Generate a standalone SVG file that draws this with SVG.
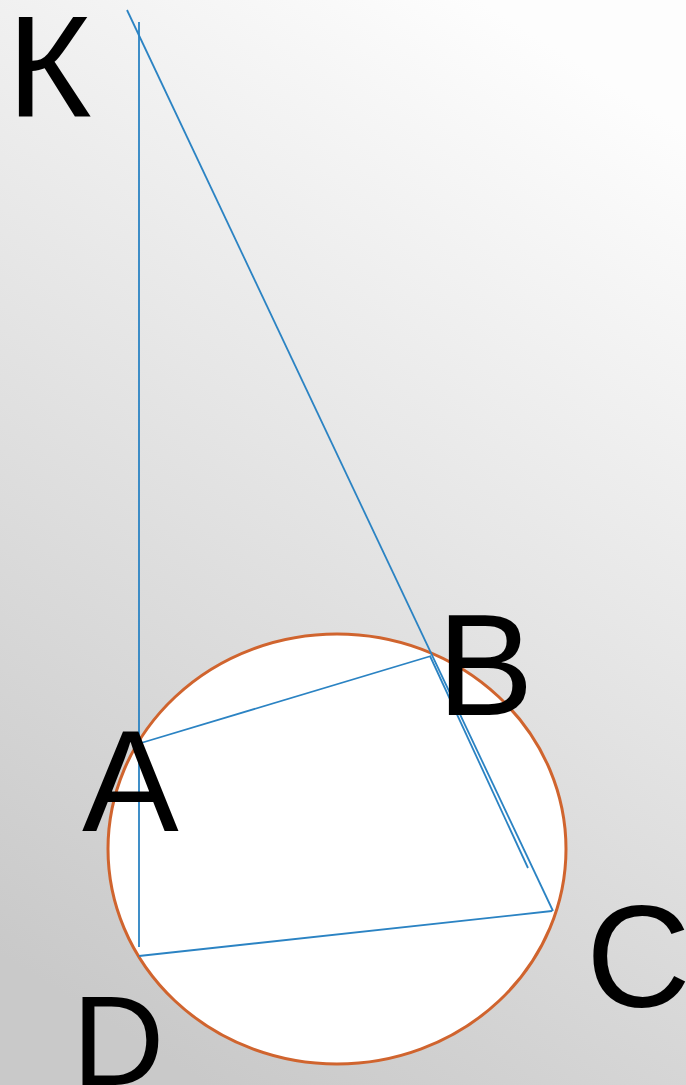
<svg xmlns="http://www.w3.org/2000/svg" width="686" height="1085" viewBox="0 0 686 1085">
<defs>
<linearGradient id="bg" x1="0.7" y1="0" x2="0.3" y2="1">
<stop offset="0" stop-color="#fdfdfd"/>
<stop offset="1" stop-color="#c9c9c9"/>
</linearGradient>
<style>
.ln{stroke:#2b83c3;stroke-width:1.8;fill:none}
.lbl{font-family:"Liberation Sans",Arial,sans-serif;font-size:145px;fill:#000}
</style>
</defs>
<rect width="686" height="1085" fill="url(#bg)"/>
<g id="circle">
<ellipse cx="337" cy="849" rx="229" ry="215" fill="#fff" stroke="#d0642e" stroke-width="3"/>
</g>
<g id="connectors">
<line class="ln" x1="139" y1="22" x2="139" y2="947"/>
<line class="ln" x1="127" y1="10" x2="553" y2="911"/>
<line class="ln" x1="430" y1="656" x2="528" y2="868"/>
<line class="ln" x1="141" y1="743" x2="431" y2="656"/>
<line class="ln" x1="139" y1="956" x2="552" y2="911"/>
</g>
<g id="K"><text class="lbl" x="7" y="117">К</text></g>
<g id="A"><text class="lbl" x="82" y="831">A</text></g>
<g id="B"><text class="lbl" x="437" y="715">B</text></g>
<g id="C"><text class="lbl" x="586" y="1007">C</text></g>
<g id="D"><text class="lbl" x="72" y="1085" style="font-size:128px">D</text></g>
</svg>
